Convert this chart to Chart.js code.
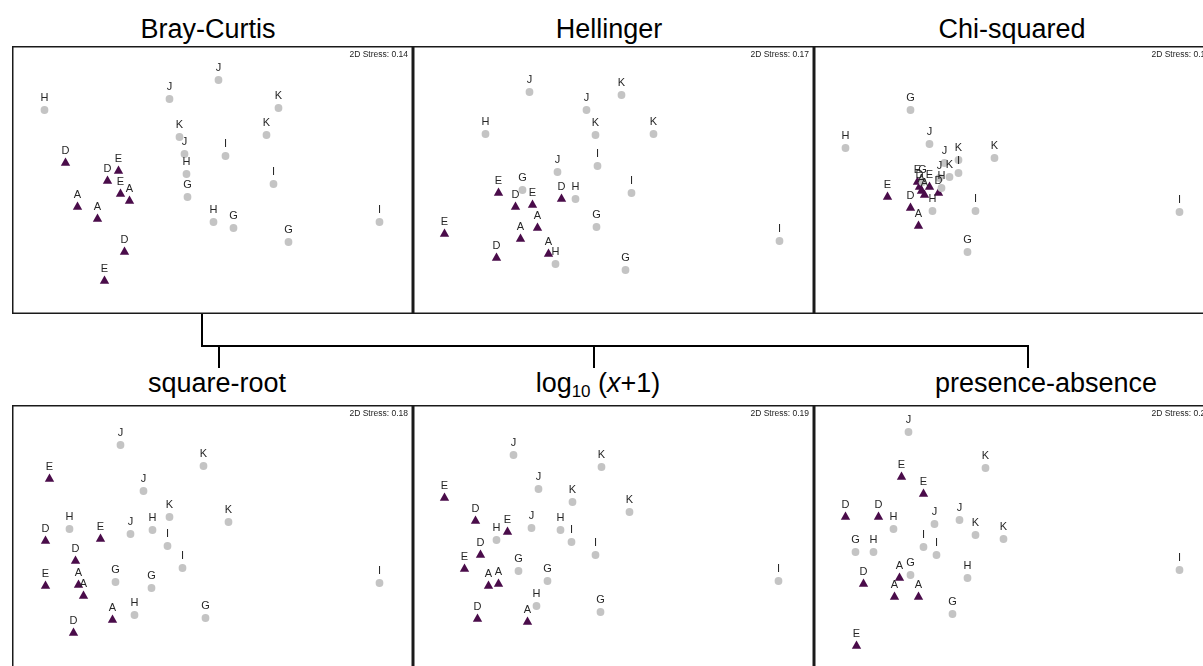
<!DOCTYPE html>
<html>
<head>
<meta charset="utf-8">
<script src="https://cdn.jsdelivr.net/npm/chart.js@4/dist/chart.umd.min.js"></script>
<style>
  html, body { margin: 0; padding: 0; background: #fff; overflow: hidden; }
  body { width: 1203px; height: 666px; position: relative; font-family: "Liberation Sans", Arial, sans-serif; }
  .panel { position: absolute; width: 401px; height: 268px; }
  .title { position: absolute; font-size: 27px; color: #000; white-space: nowrap; transform: translateX(-50%); line-height: 1; }
  .title sub { font-size: 17px; vertical-align: -5px; line-height: 0; }
  .ln { position: absolute; background: #000; }
</style>
</head>
<body>
<script>
'use strict';
/* global Chart */

// NMDS ordinations, arbitrary units (axis 1, axis 2). [label, x, y]
const panelTitles = ['Bray-Curtis', 'Hellinger', 'Chi-squared', 'square-root', 'log<sub>10</sub> (<i>x</i>+1)', 'presence-absence'];
const stressValues = ['0.14', '0.17', '0.15', '0.18', '0.19', '0.20'];

// grey circles: sites G-K ; purple triangles: sites A, D, E
const brayGrey = [['J',0.06,1.00],['J',-0.43,0.81],['H',-1.68,0.70],['K',0.66,0.72],['K',-0.33,0.43],['K',0.54,0.45],
  ['J',-0.28,0.26],['I',0.13,0.24],['H',-0.26,0.06],['I',0.61,-0.04],['G',-0.25,-0.17],['H',0.01,-0.42],
  ['G',0.21,-0.48],['G',0.76,-0.62],['I',1.67,-0.42]];
const brayPurple = [['D',-1.47,0.17],['E',-0.94,0.09],['D',-1.05,-0.01],['E',-0.92,-0.14],['A',-0.83,-0.21],
  ['A',-1.35,-0.27],['A',-1.15,-0.39],['D',-0.88,-0.72],['E',-1.08,-1.01]];

const hellGrey = [['J',-0.84,0.88],['K',0.08,0.85],['J',-0.27,0.70],['H',-1.28,0.46],['K',-0.18,0.45],['K',0.40,0.46],
  ['I',-0.16,0.14],['J',-0.56,0.08],['G',-0.91,-0.10],['H',-0.38,-0.19],['I',0.18,-0.13],['G',-0.17,-0.47],
  ['I',1.66,-0.61],['H',-0.58,-0.84],['G',0.12,-0.90]];
const hellPurple = [['E',-1.15,-0.13],['D',-0.98,-0.27],['E',-0.81,-0.25],['D',-0.52,-0.19],['A',-0.76,-0.48],
  ['A',-0.93,-0.59],['E',-1.69,-0.54],['D',-1.17,-0.78],['A',-0.65,-0.74]];

const chiGrey = [['G',-1.04,0.70],['H',-1.69,0.32],['J',-0.85,0.36],['K',-0.20,0.22],['J',-0.70,0.17],['K',-0.56,0.20],
  ['K',-0.65,0.03],['I',-0.56,0.07],['J',-0.75,0.02],['H',-0.73,-0.08],['G',-0.92,-0.02],['H',-0.82,-0.31],
  ['I',-0.39,-0.31],['G',-0.47,-0.72],['I',1.65,-0.32]];
const chiPurple = [['E',-0.97,-0.02],['D',-0.95,-0.07],['A',-0.93,-0.11],['A',-0.90,-0.15],['E',-0.85,-0.07],
  ['D',-0.76,-0.13],['E',-1.27,-0.17],['D',-1.04,-0.28],['A',-0.96,-0.46]];

const sqrtGrey = [['J',-0.92,0.94],['K',-0.09,0.73],['J',-0.69,0.48],['K',-0.43,0.22],['K',0.16,0.17],['H',-1.43,0.10],
  ['J',-0.82,0.05],['H',-0.60,0.09],['I',-0.45,-0.07],['I',-0.30,-0.29],['G',-0.97,-0.43],['G',-0.61,-0.49],
  ['H',-0.78,-0.76],['G',-0.07,-0.79],['I',1.67,-0.44]];
const sqrtPurple = [['E',-1.63,0.60],['D',-1.67,-0.02],['E',-1.12,0.00],['D',-1.37,-0.22],['E',-1.67,-0.47],
  ['A',-1.34,-0.46],['A',-1.29,-0.57],['A',-1.00,-0.81],['D',-1.39,-0.94]];

const logGrey = [['J',-1.00,0.84],['K',-0.12,0.72],['J',-0.75,0.50],['K',-0.41,0.37],['K',0.16,0.27],['H',-1.17,-0.01],
  ['J',-0.82,0.11],['H',-0.53,0.09],['I',-0.42,-0.03],['I',-0.18,-0.16],['G',-0.95,-0.32],['G',-0.66,-0.42],
  ['H',-0.77,-0.67],['G',-0.13,-0.73],['I',1.65,-0.42]];
const logPurple = [['E',-1.69,0.41],['D',-1.38,0.18],['E',-1.06,0.07],['D',-1.33,-0.16],['E',-1.49,-0.30],
  ['A',-1.25,-0.47],['A',-1.15,-0.45],['D',-1.36,-0.80],['A',-0.86,-0.83]];

const paGrey = [['J',-1.06,1.07],['K',-0.29,0.71],['H',-1.21,0.10],['J',-0.80,0.15],['J',-0.55,0.19],['K',-0.39,0.04],
  ['K',-0.11,0.00],['G',-1.59,-0.13],['H',-1.41,-0.13],['I',-0.91,-0.08],['I',-0.78,-0.16],['G',-1.04,-0.36],
  ['H',-0.47,-0.39],['G',-0.62,-0.75],['I',1.65,-0.31]];
const paPurple = [['E',-1.13,0.62],['E',-0.91,0.45],['D',-1.69,0.22],['D',-1.36,0.22],['D',-1.51,-0.45],
  ['A',-1.15,-0.39],['A',-1.20,-0.58],['A',-0.96,-0.58],['E',-1.58,-1.07]];

const greyData = [brayGrey, hellGrey, chiGrey, sqrtGrey, logGrey, paGrey];
const purpleData = [brayPurple, hellPurple, chiPurple, sqrtPurple, logPurple, paPurple];

// layout
const panelLeft = [12, 413, 814, 12, 413, 814];
const panelTop = [46, 46, 46, 405, 405, 405];
const titleX = [208, 609, 1012, 217, 598, 1046];
const titleY = [16, 16, 16, 370, 370, 370];

const toPts = rows => rows.map(r => ({ x: r[1], y: r[2], lab: r[0] }));

const labelPlugin = {
  id: 'ptLabels',
  afterDatasetsDraw(chart) {
    const ctx = chart.ctx;
    ctx.save();
    ctx.font = '11px "Liberation Sans", Arial, sans-serif';
    ctx.fillStyle = '#262626';
    ctx.textAlign = 'center';
    ctx.textBaseline = 'middle';
    chart.data.datasets.forEach((ds, i) => {
      chart.getDatasetMeta(i).data.forEach((el, j) => {
        ctx.fillText(ds.data[j].lab, el.x, el.y - 12.5);
      });
    });
    ctx.restore();
  },
  afterDraw(chart, args, opts) {
    const { ctx, chartArea: a } = chart;
    ctx.save();
    ctx.strokeStyle = '#1a1a1a';
    ctx.lineWidth = 1.5;
    ctx.strokeRect(a.left + 0.75, a.top + 0.75, a.right - a.left - 1.5, a.bottom - a.top - 1.5);
    ctx.font = '8.5px "Liberation Sans", Arial, sans-serif';
    ctx.fillStyle = '#222';
    ctx.textAlign = 'right';
    ctx.textBaseline = 'middle';
    ctx.fillText('2D Stress: ' + opts.stress, a.right - 5, a.top + 9);
    ctx.restore();
  }
};

function makePanel(i) {
  const wrap = document.createElement('div');
  wrap.className = 'panel';
  wrap.style.left = panelLeft[i] + 'px';
  wrap.style.top = panelTop[i] + 'px';
  const cv = document.createElement('canvas');
  cv.width = 401; cv.height = 268;
  wrap.appendChild(cv);
  document.body.appendChild(wrap);

  const t = document.createElement('div');
  t.className = 'title';
  t.innerHTML = panelTitles[i];
  t.style.left = titleX[i] + 'px';
  t.style.top = titleY[i] + 'px';
  document.body.appendChild(t);

  new Chart(cv, {
    type: 'scatter',
    data: {
      datasets: [
        { data: toPts(greyData[i]), pointStyle: 'circle', pointRadius: 3.9,
          backgroundColor: '#c4c4c4', borderColor: '#c4c4c4', borderWidth: 0 },
        { data: toPts(purpleData[i]), pointStyle: 'triangle', pointRadius: 5.4,
          backgroundColor: '#4a0c4a', borderColor: '#4a0c4a', borderWidth: 0 }
      ]
    },
    options: {
      responsive: false,
      animation: false,
      devicePixelRatio: 1,
      layout: { padding: 0, autoPadding: false },
      plugins: { legend: { display: false }, tooltip: { enabled: false }, ptLabels: { stress: stressValues[i] } },
      scales: {
        x: { type: 'linear', min: -2.005, max: 2.005, display: false },
        y: { type: 'linear', min: -1.34, max: 1.34, display: false }
      }
    },
    plugins: [labelPlugin]
  });
}

for (let i = 0; i < 6; i++) makePanel(i);

// connector tree between the two rows
const lines = [
  [201, 314, 2, 33],
  [201, 345, 828, 2],
  [218, 345, 2, 23],
  [593, 345, 2, 23],
  [1027, 345, 2, 23]
];
lines.forEach(l => {
  const d = document.createElement('div');
  d.className = 'ln';
  d.style.left = l[0] + 'px'; d.style.top = l[1] + 'px';
  d.style.width = l[2] + 'px'; d.style.height = l[3] + 'px';
  document.body.appendChild(d);
});
</script>
</body>
</html>
